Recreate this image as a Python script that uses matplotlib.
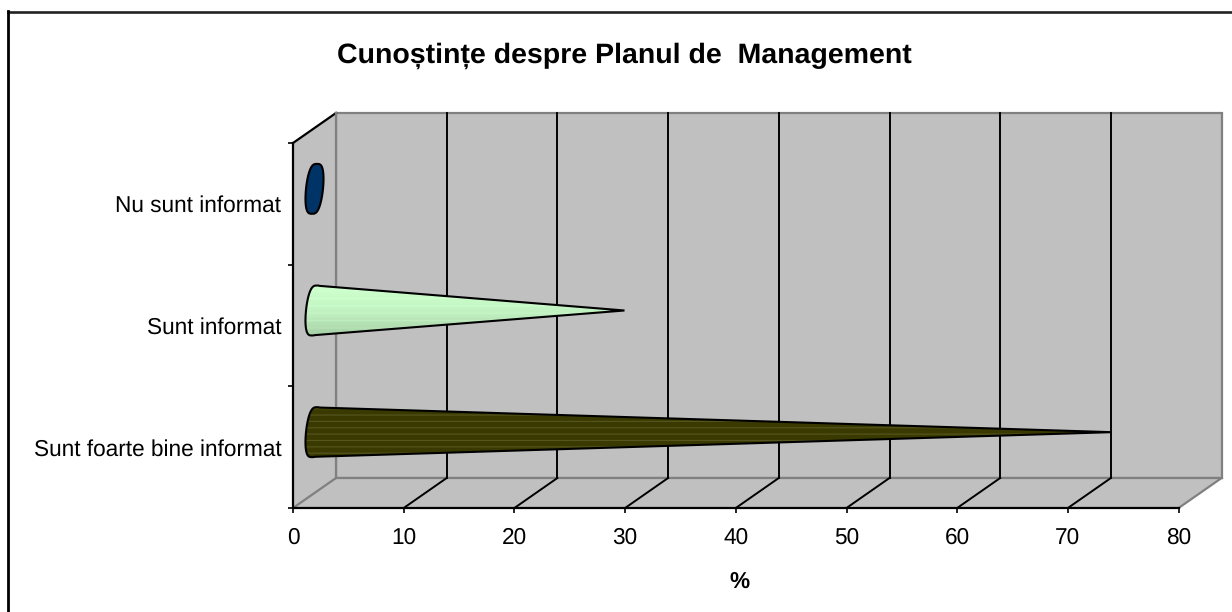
#Cunostinte despre Planul de Management - con 3D orizontal
import numpy as np
import matplotlib
matplotlib.use('Agg')
import matplotlib.pyplot as plt
from matplotlib.patches import Polygon
from matplotlib.transforms import Affine2D

plt.rcParams['font.family'] = ['Liberation Sans', 'DejaVu Sans']
plt.rcParams['text.hinting'] = 'no_hinting'

TITLE = 'Cunoștințe despre Planul de  Management'
X_LABEL = '%'
categories = ['Sunt foarte bine informat', 'Sunt informat', 'Nu sunt informat']
values = [72, 28, 0]
x_ticks = [0, 10, 20, 30, 40, 50, 60, 70, 80]

W, H = 1232, 612
DEPTH_X, DEPTH_Y = 43, 30  # adancimea 3D in pixeli
GREY = '#c0c0c0'
EDGE = '#808080'

fig = plt.figure(figsize=(W / 100, H / 100), dpi=100)
ax = fig.add_axes([293 / W, 1 - 508 / H, 885.6 / W, 365 / H])
ax.set_xlim(0, 80)
ax.set_ylim(0, 3)
ax.patch.set_visible(False)

back = ax.transData + Affine2D().translate(DEPTH_X, DEPTH_Y)
mid = ax.transData + Affine2D().translate(DEPTH_X / 2, DEPTH_Y / 2)
dx = DEPTH_X / 885.6 * 80
dy = DEPTH_Y / 365 * 3

# pereti
ax.add_patch(Polygon([(0, 0), (80, 0), (80, 3), (0, 3)], transform=back, fc=GREY, ec=EDGE, lw=1.6, clip_on=False, zorder=1))
ax.add_patch(Polygon([(0, 0), (dx, dy), (dx, 3 + dy), (0, 3)], fc=GREY, ec='none', clip_on=False, zorder=1))
ax.add_patch(Polygon([(0, 0), (80, 0), (80 + dx, dy), (dx, dy)], fc=GREY, ec='none', clip_on=False, zorder=1))
ax.plot([0, dx], [0, dy], color=EDGE, lw=1.6, clip_on=False, zorder=2)
ax.plot([80, 80 + dx], [0, dy], color=EDGE, lw=1.6, clip_on=False, zorder=2)
ax.plot([0, dx], [3, 3 + dy], color='black', lw=1.6, clip_on=False, zorder=2)
ax.plot([dx, dx], [dy, 3 + dy], color=EDGE, lw=1.6, clip_on=False, zorder=2)
ax.plot([dx, 80 + dx], [dy, dy], color=EDGE, lw=1.6, clip_on=False, zorder=2)

# grila
for t in x_ticks[1:-1]:
    ax.plot([t, t + dx], [0, dy], color='black', lw=1.4, clip_on=False, zorder=2)
    ax.plot([t, t], [0, 3], color='black', lw=1.4, transform=back, clip_on=False, zorder=2)


def green_image():
    rows = np.linspace(0, 1, 51)
    top = np.array([0.80, 1.0, 0.80])
    bottom = np.array([0.64, 0.80, 0.64])
    img = top[None, :] * (1 - rows[:, None] ** 2) + bottom[None, :] * rows[:, None] ** 2
    img[::7] = np.minimum(img[::7] + 0.03, 1)
    return img[None, :, :].transpose(1, 0, 2)


def dark_image():
    img = np.tile(np.array([0.23, 0.23, 0.0]), (51, 1))
    img[3::6] = [0.34, 0.34, 0.13]
    return img[None, :, :].transpose(1, 0, 2)


def base_points(center, angles):
    # baza conului: elipsa putin inclinata, cu laturile aplatizate
    rx, ry, slant = 8.5 / 885.6 * 80, 25 / 365 * 3, 2.5 / 885.6 * 80
    c, s = np.cos(angles), np.sin(angles)
    c = np.sign(c) * np.abs(c) ** 0.65
    return np.column_stack([c * rx + s * slant, center + s * ry])


fills = [dark_image(), green_image(), None]
for i, (value, img) in enumerate(zip(values, fills)):
    center = i + 0.5
    if value < 1:
        pts = base_points(center, np.linspace(0, 2 * np.pi, 40))
        ax.add_patch(Polygon(pts, transform=mid, fc='#003366', ec='black', lw=1.5, clip_on=False, zorder=4))
        continue
    pts = base_points(center, np.linspace(np.radians(80), np.radians(280), 30))
    pts = np.vstack([[value, center], pts])
    cone = Polygon(pts, transform=mid, fc='none', ec='black', lw=1.5, clip_on=False, zorder=5)
    ax.add_patch(cone)
    im = ax.imshow(img, extent=[-1, value, center - 0.22, center + 0.22], transform=mid,
                   aspect='auto', interpolation='bilinear', zorder=4)
    im.set_clip_path(cone)
ax.set_xlim(0, 80)
ax.set_ylim(0, 3)

# axe
for s in ['top', 'right']:
    ax.spines[s].set_visible(False)
for s in ['left', 'bottom']:
    ax.spines[s].set_linewidth(1.6)
    ax.spines[s].set_zorder(3)
ax.set_xticks(x_ticks)
ax.set_yticks([0, 1, 2, 3])
ax.set_yticklabels([])
ax.set_yticks([0.5, 1.5, 2.5], labels=categories, minor=True)
ax.tick_params(axis='x', length=3.5, width=1.2, pad=10, labelsize=16.3)
ax.tick_params(axis='y', which='major', length=3.5, width=1.2)
ax.tick_params(axis='y', which='minor', length=0, pad=8.5, labelsize=16.3)

fig.text(624 / W, 1 - 56 / H, TITLE, fontsize=20.5, fontweight='bold', ha='center', va='center')
fig.text(740 / W, 1 - 582 / H, X_LABEL, fontsize=16.3, fontweight='bold', ha='center', va='center')

# chenar (doar sus si stanga)
fig.add_artist(plt.Line2D([7.5 / W, 1], [1 - 11.5 / H, 1 - 11.5 / H], color='#222222', lw=1.9))
fig.add_artist(plt.Line2D([8 / W, 8 / W], [0, 1 - 11 / H], color='black', lw=2.0))

fig.savefig('out.png', dpi=100)
plt.close(fig)
